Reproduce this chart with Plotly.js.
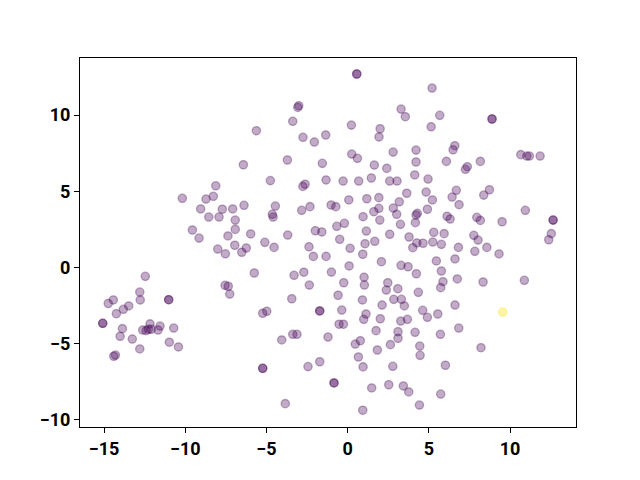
<!DOCTYPE html>
<html>
<head>
<meta charset="utf-8">
<script src="https://cdn.plot.ly/plotly-3.0.1.min.js"></script>
<style>html,body{margin:0;padding:0;background:#fff}#chart{width:640px;height:480px}</style>
</head>
<body>
<div id="chart"></div>
<script>
const xValues = [
-3.01,-3.07,-3.38,-5.62,-2.75,-2.05,-1.35,-6.42,-3.71,-1.56,-4.76,-1.33,
0.56,0.56,5.20,3.29,3.55,5.67,0.23,2.00,1.93,5.14,0.25,0.60,2.80,4.21,4.21,6.08,1.64,2.41,1.46,4.13,4.95,-0.28,0.68,2.59,3.04,
8.89,8.89,6.60,6.49,7.37,7.25,8.17,10.66,11.03,11.19,11.85,
-10.18,-8.72,-9.05,-9.56,-9.15,-12.46,-12.80,-12.77,-14.43,-14.74,-13.48,-11.02,-11.02,
-8.12,-2.62,-2.76,-8.27,-7.72,-7.08,-6.38,-4.45,-4.64,-4.59,-8.55,-7.92,-6.92,-2.83,-2.32,-6.92,-7.37,-5.97,-3.69,-1.99,-1.59,
-8.00,-7.53,-6.95,-6.52,-6.24,-5.10,-4.53,-2.38,-2.11,-1.33,-5.75,-3.30,-2.70,-7.55,-7.35,-7.26,-2.36,-3.44,
3.64,4.83,5.22,6.43,0.07,1.18,1.92,3.18,-1.02,-0.73,1.92,1.61,2.81,3.02,4.29,4.21,4.17,4.91,0.95,1.98,3.25,6.12,6.31,
-0.67,-0.20,1.15,2.59,3.78,5.30,5.94,-0.49,1.07,1.67,4.26,4.01,4.64,5.24,5.77,0.15,0.93,2.08,3.29,3.72,5.46,6.61,0.09,
-1.00,4.23,5.77,1.01,1.03,-0.24,2.47,2.38,3.09,5.87,5.73,4.35,-0.59,0.91,2.84,3.31,2.12,3.49,
6.69,8.73,8.38,6.86,10.94,12.65,12.65,7.95,8.17,9.51,12.54,12.38,7.77,8.03,6.82,8.57,7.83,9.32,6.75,8.34,10.88,6.61,
-14.24,-13.81,-15.08,-15.08,-13.87,-14.01,-13.26,-12.80,-14.40,-14.30,-12.62,-12.41,-12.17,-12.27,-12.09,-11.55,-11.67,-10.71,-10.98,-10.42,
-5.23,-4.98,-1.72,-1.72,-4.06,-3.38,-3.12,-1.21,-5.23,-5.23,-2.44,-1.72,-3.84,
-0.36,1.13,0.99,2.01,4.62,4.91,5.55,3.27,3.68,-0.53,-0.26,1.75,3.10,3.10,4.15,5.71,0.47,0.78,2.63,1.83,4.44,4.46,
0.66,0.95,2.78,6.02,-0.84,-0.84,1.48,2.53,3.43,3.76,5.73,4.42,0.93,6.84,8.21,
9.55
];
const yValues = [
10.61,10.50,9.59,8.97,8.54,8.23,8.69,6.74,7.05,6.83,5.70,5.74,
12.69,12.69,11.77,10.39,9.89,9.98,9.34,9.10,8.56,9.23,7.44,7.16,7.57,7.70,6.92,6.96,6.72,6.50,5.87,6.07,5.80,5.67,5.67,5.67,5.67,
9.74,9.74,7.99,7.72,6.61,6.44,6.96,7.40,7.31,7.31,7.31,
4.54,4.49,3.84,2.46,1.93,-0.58,-1.61,-2.13,-2.13,-2.36,-2.52,-2.11,-2.11,
5.36,5.46,5.32,4.67,3.82,3.84,4.08,4.03,3.49,3.31,3.31,3.31,3.11,3.75,3.99,2.50,2.07,2.20,2.13,2.41,2.33,
1.21,0.90,1.46,1.00,1.28,1.65,1.32,1.36,0.73,0.73,-0.36,-0.51,-0.31,-1.17,-1.23,-1.74,-1.15,-2.05,
4.87,4.95,4.43,4.62,4.43,4.51,4.58,4.31,4.10,3.99,3.88,3.66,3.90,3.49,3.55,3.44,2.94,3.82,3.33,3.11,2.83,3.36,3.18,
2.70,2.90,2.39,2.18,2.00,2.31,2.22,1.85,1.56,1.72,1.61,1.30,1.59,1.67,1.52,1.26,0.87,0.38,0.14,0.05,0.43,0.56,0.10,
-0.30,-0.41,-0.23,-0.64,-1.15,-1.00,-1.00,-1.48,-1.39,-0.93,-1.32,-1.63,-1.82,-2.13,-2.09,-2.09,-2.46,-2.52,
5.06,5.10,4.75,4.12,3.75,3.11,3.11,3.29,3.09,3.00,2.22,1.82,2.11,1.80,1.32,1.32,1.06,0.89,-0.75,-0.95,-0.84,-2.46,
-3.03,-2.74,-3.66,-3.66,-4.01,-4.51,-4.69,-5.34,-5.82,-5.74,-4.10,-4.14,-3.70,-4.05,-4.05,-3.84,-4.10,-3.97,-4.90,-5.21,
-3.00,-2.87,-2.85,-2.85,-4.75,-4.38,-4.38,-4.56,-6.61,-6.61,-6.50,-6.18,-8.93,
-2.79,-3.05,-3.40,-3.36,-2.81,-3.27,-3.05,-3.51,-3.40,-3.72,-3.72,-4.14,-4.21,-4.64,-4.25,-4.38,-5.02,-4.80,-5.06,-5.41,-5.15,-5.76,
-5.87,-6.52,-6.48,-6.41,-7.57,-7.57,-7.90,-7.69,-7.77,-8.16,-8.30,-9.02,-9.36,-3.97,-5.26,
-2.92
];
// class labels: all 0 except the last point (1)
const labels = xValues.map((_, i) => (i === xValues.length - 1 ? 1 : 0));
const classColors = ['rgba(68,1,84,0.33)', 'rgba(253,231,37,0.4)'];
const xTicks = [-15, -10, -5, 0, 5, 10];
const yTicks = [-10, -5, 0, 5, 10];

const pointColors = labels.map(v => classColors[v]);

const trace = {
  type: 'scatter',
  mode: 'markers',
  x: xValues,
  y: yValues,
  marker: {
    color: pointColors,
    size: 8.3,
    line: {color: pointColors, width: 1.3}
  },
  hoverinfo: 'skip'
};

const tickFont = {family: 'Roboto, "DejaVu Sans", sans-serif', size: 18, color: '#000', weight: 'bold'};

const layout = {
  width: 640,
  height: 480,
  margin: {l: 80, r: 64, t: 58, b: 53},
  paper_bgcolor: '#fff',
  plot_bgcolor: '#fff',
  showlegend: false,
  xaxis: {
    range: [-16.48, 14.06],
    tickvals: xTicks,
    ticks: 'outside', ticklen: 5, tickwidth: 1, tickcolor: '#000',
    showline: true, linecolor: '#000', linewidth: 1, mirror: true,
    showgrid: false, zeroline: false,
    tickfont: tickFont
  },
  yaxis: {
    range: [-10.46, 13.74],
    tickvals: yTicks,
    ticks: 'outside', ticklen: 5, tickwidth: 1, tickcolor: '#000',
    showline: true, linecolor: '#000', linewidth: 1, mirror: true,
    showgrid: false, zeroline: false,
    tickfont: tickFont
  }
};

Plotly.newPlot('chart', [trace], layout, {staticPlot: true, displayModeBar: false});
</script>
</body>
</html>
